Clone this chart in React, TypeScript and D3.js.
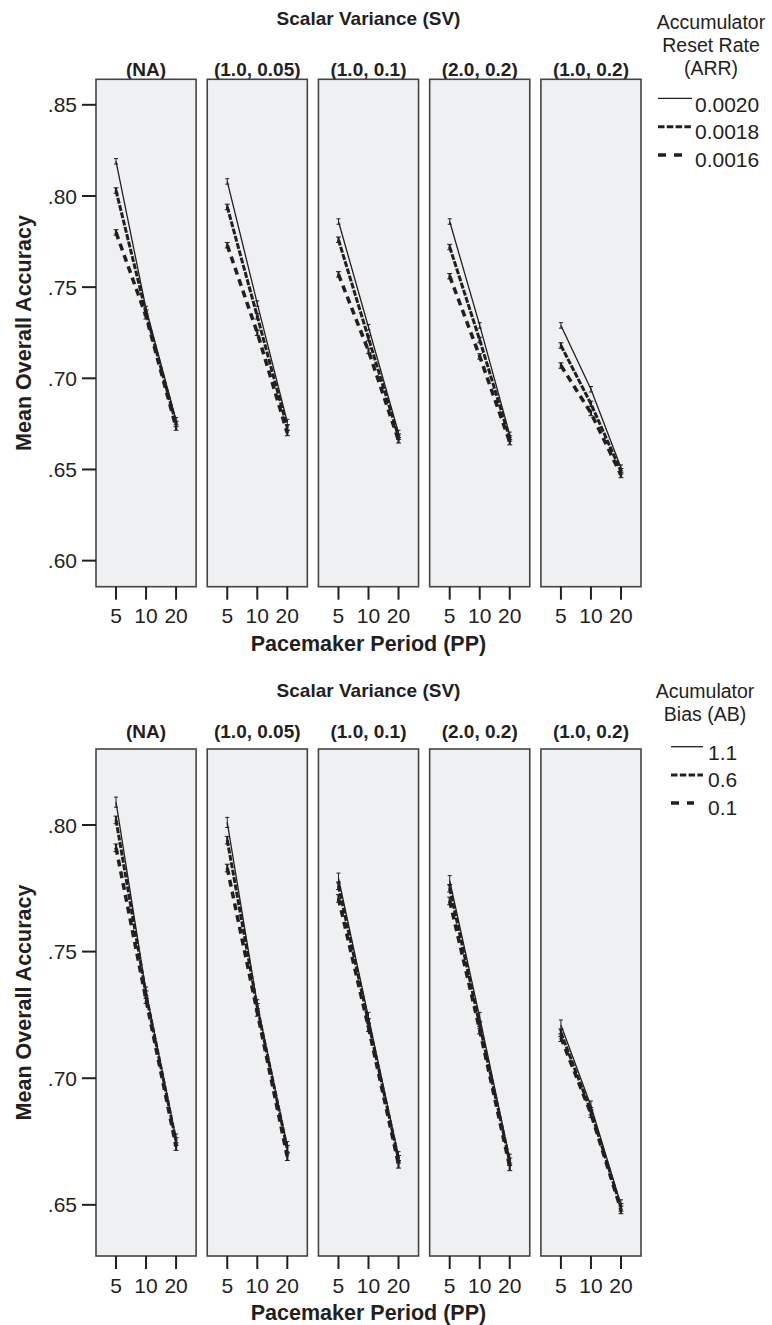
import React from 'react';
import * as d3 from 'd3';

// ---------- data ----------
const ppLevels = ['5', '10', '20'];
const svLevels = ['(NA)', '(1.0, 0.05)', '(1.0, 0.1)', '(2.0, 0.2)', '(1.0, 0.2)'];
const yTicksTop = [0.6, 0.65, 0.7, 0.75, 0.8, 0.85];
const yTicksBottom = [0.65, 0.7, 0.75, 0.8];

const arrLevels = ['0.0020', '0.0018', '0.0016'];
// each row = one SV facet, values at PP 5, 10, 20
const arr0020 = [
  [0.819, 0.738, 0.677],
  [0.808, 0.741, 0.676],
  [0.786, 0.728, 0.670],
  [0.786, 0.729, 0.669],
  [0.729, 0.694, 0.651],
];
const arr0018 = [
  [0.803, 0.736, 0.675],
  [0.794, 0.734, 0.673],
  [0.776, 0.722, 0.668],
  [0.772, 0.721, 0.667],
  [0.718, 0.686, 0.649],
];
const arr0016 = [
  [0.780, 0.734, 0.673],
  [0.773, 0.725, 0.670],
  [0.757, 0.715, 0.666],
  [0.756, 0.712, 0.665],
  [0.707, 0.681, 0.647],
];
const arrErr = [0.0015, 0.0015, 0.0015];

const abLevels = ['1.1', '0.6', '0.1'];
const ab11 = [
  [0.809, 0.734, 0.676],
  [0.801, 0.729, 0.673],
  [0.779, 0.724, 0.669],
  [0.778, 0.724, 0.668],
  [0.721, 0.689, 0.650],
];
const ab06 = [
  [0.802, 0.733, 0.675],
  [0.794, 0.728, 0.672],
  [0.776, 0.722, 0.668],
  [0.775, 0.721, 0.667],
  [0.718, 0.687, 0.649],
];
const ab01 = [
  [0.791, 0.731, 0.673],
  [0.783, 0.726, 0.669],
  [0.771, 0.720, 0.666],
  [0.770, 0.719, 0.665],
  [0.716, 0.686, 0.648],
];
const abErr = [0.002, 0.0015, 0.0015];

// ---------- styles ----------
const INK = '#231f20';
const FONT = '"Liberation Sans", Arial, Helvetica, sans-serif';
const lineStyles = [
  { width: 1.3, dash: undefined as string | undefined, legendDash: undefined as string | undefined, legendLen: 1 },
  { width: 3, dash: '6,1.5', legendDash: '6.5,2.3', legendLen: 1 },
  { width: 3.5, dash: '7,5', legendDash: '8,8', legendLen: 0.72 },
];

type PanelProps = {
  top: number;
  bottom: number;
  domain: [number, number];
  ticks: number[];
  series: number[][][];
  errs: number[];
  levels: string[];
  legendTitle: string[];
  legendTitleYs: number[];
  legendTitleX: number;
  legendLineYs: number[];
  legendTextYs: number[];
  legendX0: number;
  legendX1: number;
  legendTextX: number;
  svTitleY: number;
  facetTitleY: number;
};

function Panel(p: PanelProps) {
  const band = d3.scaleBand<string>().domain(svLevels).range([96, 641]).paddingInner(0.1);
  const bw = band.bandwidth();
  const xin = d3.scalePoint<string>().domain(ppLevels).range([0, bw]).padding(0.667);
  const y = d3.scaleLinear().domain(p.domain).range([p.bottom, p.top]);
  const line = d3
    .line<number>()
    .x((_, i) => xin(ppLevels[i]) as number)
    .y((d) => y(d));
  const midX = (96 + 641) / 2;
  const midY = (p.top + p.bottom) / 2;

  return (
    <g fontFamily={FONT} fill={INK}>
      <text x={midX} y={p.svTitleY} textAnchor="middle" fontWeight="bold" fontSize={19}>
        Scalar Variance (SV)
      </text>
      {svLevels.map((sv, fi) => {
        const x0 = band(sv) as number;
        return (
          <g key={sv}>
            <text x={x0 + bw / 2} y={p.facetTitleY} textAnchor="middle" fontWeight="bold" fontSize={19}>
              {sv}
            </text>
            <rect x={x0} y={p.top} width={bw} height={p.bottom - p.top} fill="#eff0f2" stroke="#444" strokeWidth={1.6} />
            <g transform={`translate(${x0},0)`}>
              {p.series.map((s, si) => {
                const st = lineStyles[si];
                return (
                  <g key={si}>
                    <path
                      d={line(s[fi]) as string}
                      fill="none"
                      stroke={INK}
                      strokeWidth={st.width}
                      strokeDasharray={st.dash}
                    />
                    {s[fi].map((v, k) => {
                      const cx = xin(ppLevels[k]) as number;
                      const e = p.errs[si];
                      const cw = si === 0 ? 2 : 2.5;
                      return (
                        <g key={k} stroke={INK} strokeWidth={si === 0 ? 1 : 2.2}>
                          <line x1={cx} x2={cx} y1={y(v - e)} y2={y(v + e)} />
                          <line x1={cx - cw} x2={cx + cw} y1={y(v + e)} y2={y(v + e)} strokeWidth={1} />
                          <line x1={cx - cw} x2={cx + cw} y1={y(v - e)} y2={y(v - e)} strokeWidth={1} />
                        </g>
                      );
                    })}
                  </g>
                );
              })}
              {ppLevels.map((pp) => (
                <g key={pp}>
                  <line
                    x1={xin(pp) as number}
                    x2={xin(pp) as number}
                    y1={p.bottom}
                    y2={p.bottom + 13}
                    stroke={INK}
                    strokeWidth={2}
                  />
                  <text x={xin(pp) as number} y={p.bottom + 36.5} textAnchor="middle" fontSize={21}>
                    {pp}
                  </text>
                </g>
              ))}
            </g>
          </g>
        );
      })}
      {p.ticks.map((t) => (
        <g key={t}>
          <line x1={82} x2={96} y1={y(t)} y2={y(t)} stroke={INK} strokeWidth={2} />
          <text x={77} y={y(t)} dy="0.36em" textAnchor="end" fontSize={21}>
            {d3.format('.2f')(t).replace(/^0/, '')}
          </text>
        </g>
      ))}
      <text
        transform={`translate(31,${midY}) rotate(-90)`}
        textAnchor="middle"
        fontWeight="bold"
        fontSize={21.5}
      >
        Mean Overall Accuracy
      </text>
      <text x={midX} y={p.bottom + 64} textAnchor="middle" fontWeight="bold" fontSize={21.5}>
        Pacemaker Period (PP)
      </text>
      {p.legendTitle.map((t, i) => (
        <text key={t} x={p.legendTitleX} y={p.legendTitleYs[i]} textAnchor="middle" fontSize={19.5}>
          {t}
        </text>
      ))}
      {p.levels.map((lv, i) => (
        <g key={lv}>
          <line
            x1={p.legendX0}
            x2={p.legendX0 + (p.legendX1 - p.legendX0) * lineStyles[i].legendLen}
            y1={p.legendLineYs[i]}
            y2={p.legendLineYs[i]}
            stroke={INK}
            strokeWidth={lineStyles[i].width}
            strokeDasharray={lineStyles[i].legendDash}
          />
          <text x={p.legendTextX} y={p.legendTextYs[i]} fontSize={21}>
            {lv}
          </text>
        </g>
      ))}
    </g>
  );
}

export default function App() {
  return (
    <svg
      width={772}
      height={1325}
      viewBox="0 0 772 1325"
      style={{ position: 'absolute', left: 0, top: 0, background: '#fff' }}
    >
      <rect width={772} height={1325} fill="#fff" />
      <Panel
        top={79.3}
        bottom={586.7}
        domain={[0.5857, 0.864]}
        ticks={yTicksTop}
        series={[arr0020, arr0018, arr0016]}
        errs={arrErr}
        levels={arrLevels}
        legendTitle={['Accumulator', 'Reset Rate', '(ARR)']}
        legendTitleYs={[29, 52, 75]}
        legendTitleX={711}
        legendLineYs={[98.3, 126.7, 155]}
        legendTextYs={[112, 138.5, 167]}
        legendX0={658}
        legendX1={692}
        legendTextX={695}
        svTitleY={25}
        facetTitleY={76}
      />
      <Panel
        top={749}
        bottom={1256}
        domain={[0.6298, 0.83]}
        ticks={yTicksBottom}
        series={[ab11, ab06, ab01]}
        errs={abErr}
        levels={abLevels}
        legendTitle={['Acumulator', 'Bias (AB)']}
        legendTitleYs={[698, 721]}
        legendTitleX={705}
        legendLineYs={[746.7, 775, 803]}
        legendTextYs={[760, 787, 815]}
        legendX0={671}
        legendX1={703}
        legendTextX={708}
        svTitleY={697}
        facetTitleY={738}
      />
    </svg>
  );
}
